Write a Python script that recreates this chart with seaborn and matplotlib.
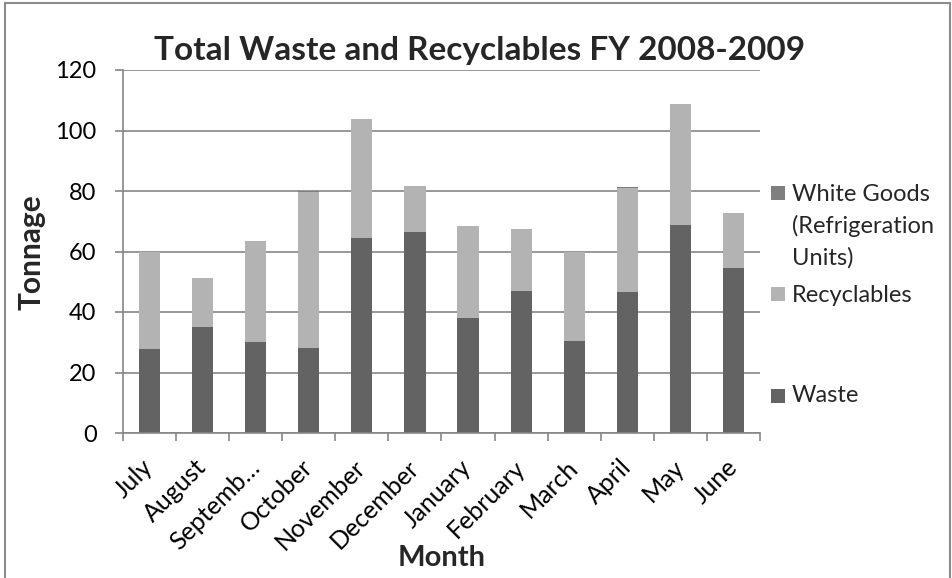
import numpy as np
import pandas as pd
import matplotlib
matplotlib.use("Agg")
import matplotlib.pyplot as plt
import seaborn as sns
from matplotlib.patches import Rectangle
from matplotlib.lines import Line2D

# Monthly tonnage, FY 2008-2009
months = ["July", "August", "Septemb\u2026", "October", "November", "December",
          "January", "February", "March", "April", "May", "June"]
waste = [27.8, 35.1, 30.0, 28.1, 64.6, 66.4, 37.9, 47.0, 30.4, 46.5, 68.9, 54.6]
recyclables = [32.0, 16.2, 33.5, 51.7, 39.2, 15.1, 30.4, 20.5, 29.4, 34.4, 39.7, 18.2]
white_goods = [0, 0, 0, 0.3, 0, 0, 0, 0, 0, 0.3, 0, 0]
yticks = [0, 20, 40, 60, 80, 100, 120]

series_names = ["White Goods\n(Refrigeration\nUnits)", "Recyclables", "Waste"]
colors = {"Waste": "#636363", "Recyclables": "#b3b3b3", "White Goods": "#7f7f7f"}
grid_gray = "#868686"

W, H = 953, 578
sns.set_style("white")
plt.rcParams["font.family"] = ["Lato", "DejaVu Sans"]

fig = plt.figure(figsize=(W / 100, H / 100), dpi=100)


def fx(px):
    return px / W


def fy(py):
    return 1 - py / H


ax = fig.add_axes([fx(123), fy(433), fx(760) - fx(123), fy(70) - fy(433)])

df = pd.DataFrame({"month": months, "waste": waste,
                   "recyclables": recyclables, "white_goods": white_goods})
df["wr"] = df["waste"] + df["recyclables"]
df["total"] = df["wr"] + df["white_goods"]

# Stacked bars: draw cumulative heights tallest first
bar_kw = dict(x="month", order=months, width=0.4, saturation=1,
              edgecolor="none", ax=ax, zorder=2)
sns.barplot(data=df, y="total", color=colors["White Goods"], **bar_kw)
sns.barplot(data=df, y="wr", color=colors["Recyclables"], **bar_kw)
sns.barplot(data=df, y="waste", color=colors["Waste"], **bar_kw)

ax.set_xlim(-0.5, len(months) - 0.5)
ax.set_ylim(0, 120)
ax.set_yticks(yticks)
ax.yaxis.grid(True, color=grid_gray, lw=1.2)
ax.set_axisbelow(True)
for s in ["top", "right"]:
    ax.spines[s].set_visible(False)
for s in ["left", "bottom"]:
    ax.spines[s].set_color(grid_gray)
    ax.spines[s].set_linewidth(1.2)

ax.set_xlabel("")
ax.set_ylabel("")
ax.tick_params(axis="y", direction="out", length=6, width=1.2, color=grid_gray,
               pad=13, labelsize=17, labelcolor="black", left=True)
ax.set_xticks(np.arange(-0.5, len(months), 1), minor=True)
ax.tick_params(axis="x", which="minor", direction="out", length=6, width=1.2,
               color=grid_gray, bottom=True)
ax.tick_params(axis="x", which="major", length=0, pad=22, labelsize=18,
               labelcolor="black")
ax.set_xticks(range(len(months)))
ax.set_xticklabels(months)
for lbl in ax.get_xticklabels():
    lbl.set_rotation(45)
    lbl.set_ha("right")
    lbl.set_va("center")
    lbl.set_rotation_mode("anchor")

# Titles
fig.text(fx(480), fy(60), "Total Waste and Recyclables FY 2008-2009",
         ha="center", va="baseline", fontsize=24, fontweight="bold")
fig.text(fx(32), fy(252), "Tonnage", rotation=90, ha="center", va="center",
         fontsize=21.5, fontweight="bold")
fig.text(fx(442), fy(558), "Month", ha="center", va="center",
         fontsize=21, fontweight="bold")

# Legend
legend_rows = [("White Goods", series_names[0], 193, 226),
               ("Recyclables", series_names[1], 294, 295),
               ("Waste", series_names[2], 396, 396)]
sq = 14
for key, label, sy, ty in legend_rows:
    fig.patches.append(Rectangle((fx(771), fy(sy + sq / 2)), sq / W, sq / H,
                                 transform=fig.transFigure,
                                 facecolor=colors[key], edgecolor="none"))
    fig.text(fx(792), fy(ty), label, ha="left", va="center", fontsize=17,
             linespacing=1.57)

# Chart frame
for xs, ys in [([5, 5], [3, H]), ([5, 950], [3, 3]), ([950, 950], [3, H])]:
    fig.lines.append(Line2D([fx(v) for v in xs], [fy(v) for v in ys],
                            transform=fig.transFigure, color="#8c8c8c", lw=1.5))

fig.savefig("out.png", dpi=100)
